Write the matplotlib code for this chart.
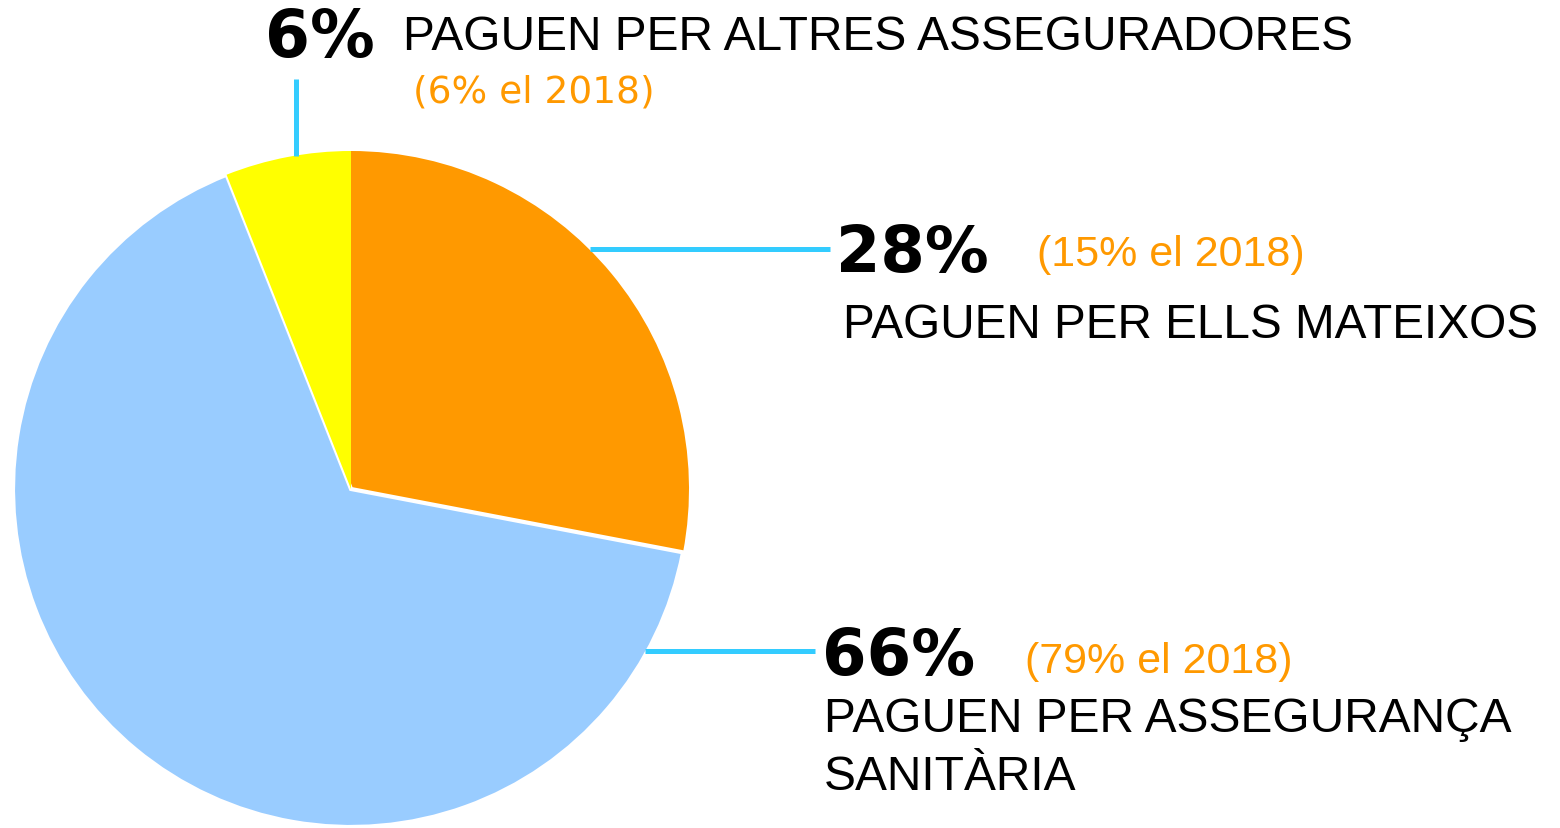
import matplotlib.pyplot as plt

# data
shares = [28, 66, 6]
colors = ['#FF9900', '#99CCFF', '#FFFF00']
pct_labels = ['28%', '66%', '6%']
prev_labels = ['(15% el 2018)', '(79% el 2018)', '(6% el 2018)']
desc_labels = ['PAGUEN PER ELLS MATEIXOS', 'PAGUEN PER ASSEGURANÇA\nSANITÀRIA',
               'PAGUEN PER ALTRES ASSEGURADORES']

W, H = 1560, 829
fig = plt.figure(figsize=(W / 100, H / 100), dpi=100)
ax = fig.add_axes([0, 0, 1, 1])

def py(y):
    # pixel row -> data y
    return H - y

wedges, _ = ax.pie(shares, colors=colors, startangle=90, counterclock=False,
                   center=(351, py(490)), radius=338, frame=True)
wedges[1].set_edgecolor('white')
wedges[1].set_linewidth(3)
ax.set_xlim(0, W)
ax.set_ylim(0, H)
ax.set_aspect('equal')
ax.axis('off')

line_col = '#33CCFF'
lw = 3.6
ax.plot([296, 296], [py(80), py(157)], color=line_col, lw=lw, solid_capstyle='butt')
ax.plot([590, 830], [py(250), py(250)], color=line_col, lw=lw, solid_capstyle='butt')
ax.plot([645, 815], [py(652), py(652)], color=line_col, lw=lw, solid_capstyle='butt')

big = ['DejaVu Sans']
reg = ['Liberation Sans', 'DejaVu Sans']
orange = '#FF9900'

# top label (yellow slice)
ax.text(265, py(57), pct_labels[2], family=big, weight='bold', fontsize=46.5, va='baseline')
ax.text(403, py(50), desc_labels[2], family=reg, fontsize=34.5, va='baseline')
ax.text(413, py(103), prev_labels[2], family=big, fontsize=27, color=orange, va='baseline')

# orange slice
ax.text(836, py(272), pct_labels[0], family=big, weight='bold', fontsize=46, va='baseline')
ax.text(1037, py(266), prev_labels[0], family=reg, fontsize=31, color=orange, va='baseline')
ax.text(843, py(338), desc_labels[0], family=reg, fontsize=34.4, va='baseline')

# blue slice
ax.text(822, py(675), pct_labels[1], family=big, weight='bold', fontsize=46, va='baseline')
ax.text(1025, py(673), prev_labels[1], family=reg, fontsize=31, color=orange, va='baseline')
ax.text(824, py(732), desc_labels[1].split('\n')[0], family=reg, fontsize=34.5, va='baseline')
ax.text(824, py(790), desc_labels[1].split('\n')[1], family=reg, fontsize=34.5, va='baseline')

fig.savefig('out.png', dpi=100)
